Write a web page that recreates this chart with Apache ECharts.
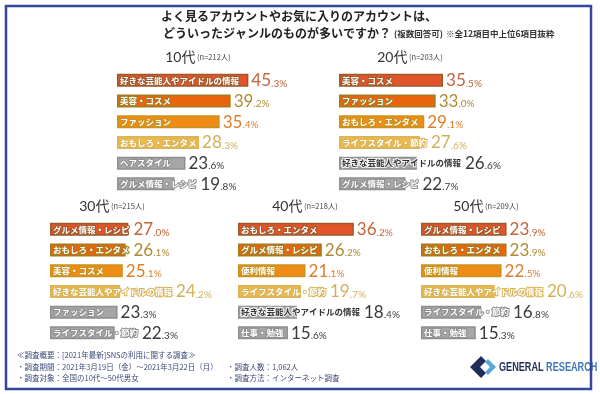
<!DOCTYPE html>
<html><head><meta charset="utf-8">
<script src="https://cdn.jsdelivr.net/npm/echarts@6/dist/echarts.min.js"></script>
<style>html,body{margin:0;padding:0;background:#fff}#c{width:600px;height:394px}</style>
</head><body><div id="c"></div>
<script>
const ages = ['10代','20代','30代','40代','50代'];
const samples = ['n=212人','n=203人','n=215人','n=218人','n=209人'];
const cats10 = ['好きな芸能人やアイドルの情報','美容・コスメ','ファッション','おもしろ・エンタメ','ヘアスタイル','グルメ情報・レシピ'];
const vals10 = [45.3,39.2,35.4,28.3,23.6,19.8];
const cats20 = ['美容・コスメ','ファッション','おもしろ・エンタメ','ライフスタイル・節約','好きな芸能人やアイドルの情報','グルメ情報・レシピ'];
const vals20 = [35.5,33.0,29.1,27.6,26.6,22.7];
const cats30 = ['グルメ情報・レシピ','おもしろ・エンタメ','美容・コスメ','好きな芸能人やアイドルの情報','ファッション','ライフスタイル・節約'];
const vals30 = [27.0,26.1,25.1,24.2,23.3,22.3];
const cats40 = ['おもしろ・エンタメ','グルメ情報・レシピ','便利情報','ライフスタイル・節約','好きな芸能人やアイドルの情報','仕事・勉強'];
const vals40 = [36.2,26.2,21.1,19.7,18.4,15.6];
const cats50 = ['グルメ情報・レシピ','おもしろ・エンタメ','便利情報','好きな芸能人やアイドルの情報','ライフスタイル・節約','仕事・勉強'];
const vals50 = [23.9,23.9,22.5,20.6,16.8,15.3];

const titleLine1 = 'よく見るアカウントやお気に入りのアカウントは、';
const titleLine2 = 'どういったジャンルのものが多いですか？';
const titleNote1 = '(複数回答可)';
const titleNote2 = '※全12項目中上位6項目抜粋';
const footer = ['≪調査概要：[2021年最新]SNSの利用に関する調査≫','・調査期間：2021年3月19日（金）～2021年3月22日（月）','・調査人数：1,062人','・調査対象：全国の10代～50代男女','・調査方法：インターネット調査'];

const allCats = [cats10,cats20,cats30,cats40,cats50];
const allVals = [vals10,vals20,vals30,vals40,vals50];

// layout
const lefts = [117,339,50,238,421];
const tops = [70,70,219,219,219];
const scales = [2.9,2.93,2.9,3.2,3.68];
const titleX = [198,410,112,305,486];
const titleY = [57,57,206,206,206];
const MAXV = 50;
const rowH = 20.7;
const CAT_FS = 8.5;
const CAT_MARGIN = 3;

const fills = ['#e2552a','#e8650e','#ef8c16','#efb84c','#a6a6a6','#a6a6a6'];
const borders = ['#9c5a2a','#a27c1e','#c8921e','#d8b458','#8e8e8e','#8e8e8e'];
const valColors = ['#c0643a','#b08a32','#de7c2a','#d2b05a','#3a3a3a','#3a3a3a'];
const JP = '"Noto Sans CJK JP", sans-serif';
const NUM = 'Lato, "DejaVu Sans", sans-serif';

const mctx = document.createElement('canvas').getContext('2d');
mctx.font = 'bold ' + CAT_FS + 'px ' + JP;
const textW = (t)=> mctx.measureText(t).width;

const grids=[], xAxes=[], yAxes=[], graphics=[];
function buildSeries(offsets){
  return allCats.map((cats,p)=>({type:'bar', xAxisIndex:p, yAxisIndex:p, barWidth:13,
    data: allVals[p].map((v,i)=>({value:v, itemStyle:{color:fills[i], borderColor:borders[i], borderWidth:1.5},
      label:{offset:[offsets ? offsets[p][i] : 0, 0], rich:{i:{color:valColors[i]}, d:{color:valColors[i]}}}})),
    label:{show:true, position:'right', distance:3,
      formatter: (prm)=>{ const s = prm.value.toFixed(1).split('.'); return '{i|'+s[0]+'}{d|.'+s[1]+'%}'; },
      rich:{ i:{fontSize:17, fontFamily:NUM, lineHeight:18, verticalAlign:'bottom'},
             d:{fontSize:10, fontFamily:NUM, lineHeight:12, verticalAlign:'bottom', padding:[0,0,1,0]} }
    },
    animation:false
  }));
}
allCats.forEach((cats,p)=>{
  const w = scales[p]*MAXV;
  grids.push({left:lefts[p], top:tops[p], width:w, height:rowH*6, containLabel:false});
  xAxes.push({type:'value', gridIndex:p, min:0, max:MAXV, show:false});
  yAxes.push({type:'category', gridIndex:p, inverse:true, z:10,
    data: cats.map((c,i)=>{
      const gray = i>=4;
      const dark = gray && c.length>10;
      return {value:c, textStyle:{
        color: dark ? '#333' : '#fff',
        textBorderColor: dark ? 'rgba(255,255,255,0.9)' : borders[i],
        textBorderWidth: 2,
        fontSize:CAT_FS, fontWeight:'bold', fontFamily:JP}};
    }),
    axisLine:{show:false}, axisTick:{show:false}, splitLine:{show:false},
    axisLabel:{inside:true, margin:CAT_MARGIN}
  });
  graphics.push({type:'text', x:titleX[p], y:titleY[p], style:{
    text:'{a|'+ages[p]+'}{b| ('+samples[p]+')}', align:'center', textAlign:'center', verticalAlign:'middle', textVerticalAlign:'middle',
    rich:{a:{fontSize:14, fontFamily:NUM+','+JP, fill:'#333', color:'#333'}, b:{fontSize:7.5, fontFamily:JP, fill:'#444', color:'#444'}}
  }});
});

// header
graphics.push({type:'text', x:299, y:16, style:{text:titleLine1, align:'center', textAlign:'center', verticalAlign:'middle', textVerticalAlign:'middle',
  font:'bold 12px '+JP, fill:'#222'}});
graphics.push({type:'text', x:163, y:33, style:{text:'{a|'+titleLine2+'}{b|'+titleNote1+'}{c|'+titleNote2+'}', align:'left', textAlign:'left', verticalAlign:'middle', textVerticalAlign:'middle',
  rich:{a:{fontSize:12, fontWeight:'bold', fontFamily:JP, fill:'#222', color:'#222'},
        b:{fontSize:8.5, fontWeight:'bold', fontFamily:JP, fill:'#333', color:'#333', padding:[2,3,0,3]},
        c:{fontSize:8.5, fontWeight:'bold', fontFamily:JP, fill:'#333', color:'#333', padding:[2,0,0,0]}}}});
// footer
const fpos = [[17,355],[17,367],[227,367],[17,378],[227,378]];
footer.forEach((t,i)=>{
  graphics.push({type:'text', x:fpos[i][0], y:fpos[i][1], style:{text:t, font:'7.5px '+JP, fill:'#3b4a7a', align:'left', textAlign:'left', verticalAlign:'middle', textVerticalAlign:'middle'}});
});
// logo
graphics.push({type:'polygon', shape:{points:[[481,356],[470,367],[481,378],[486,373],[480,367],[486,361]]}, style:{fill:'#1f2d5c'}});
graphics.push({type:'polygon', shape:{points:[[485,362],[490,367],[485,372],[488,375],[496,367],[488,359]]}, style:{fill:'#5aa6dc'}});
graphics.push({type:'group', x:499, y:368, scaleX:0.76, children:[{type:'text', x:0, y:0, style:{text:'{a|GENERAL }{b|RESEARCH}', align:'left', textAlign:'left', verticalAlign:'middle', textVerticalAlign:'middle',
  rich:{a:{fontSize:12, fontWeight:'bold', fontFamily:'"Liberation Sans", sans-serif', fill:'#1f2d5c', color:'#1f2d5c'},
        b:{fontSize:12, fontWeight:'bold', fontFamily:'"Liberation Sans", sans-serif', fill:'#3f78b8', color:'#3f78b8'}}}}]});
// frame
graphics.push({type:'rect', shape:{x:6, y:6, width:585, height:383}, style:{fill:'none', stroke:'#34479a', lineWidth:2.5}, z:100});

const chart = echarts.init(document.getElementById('c'), null, {renderer:'canvas'});
chart.setOption({animation:false, grid:grids, xAxis:xAxes, yAxis:yAxes, series:buildSeries(null), graphic:graphics});

// push value labels past category text when the text is longer than the bar
const offsets = allCats.map((cats,p)=> cats.map((c,i)=>{
  const barEnd = chart.convertToPixel({gridIndex:p}, [allVals[p][i], i])[0];
  const textEnd = lefts[p] + CAT_MARGIN + textW(c) + 1;
  return Math.max(0, textEnd - barEnd);
}));
chart.setOption({series:buildSeries(offsets)});
</script></body></html>
